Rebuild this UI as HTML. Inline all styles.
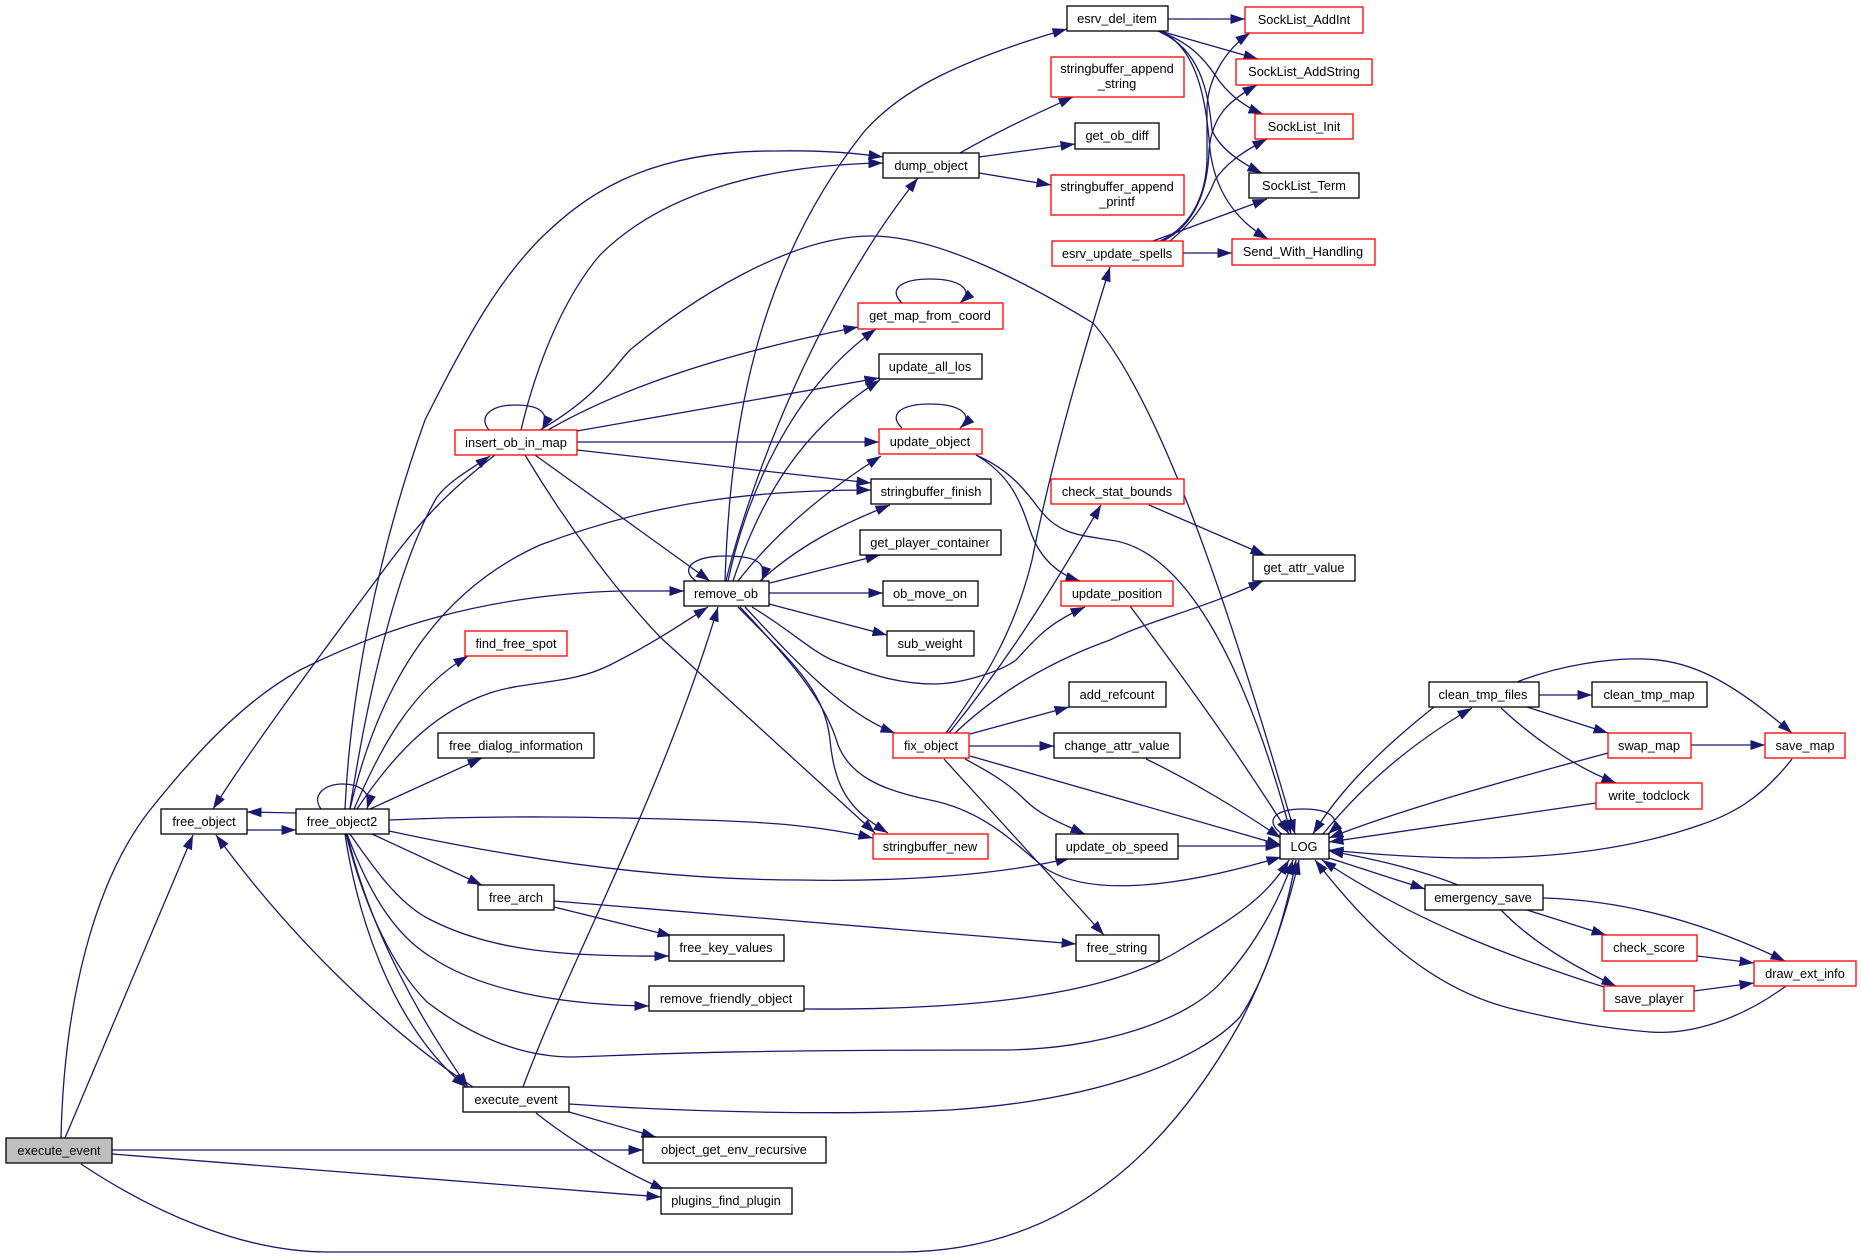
<!DOCTYPE html>
<html><head><meta charset="utf-8"><style>
html,body{margin:0;padding:0;background:#fff}
svg{display:block}
.e path{fill:none;stroke:#191970;stroke-width:1.3;marker-end:url(#a)}
.n rect{fill:#fff;stroke:#000;stroke-width:1.3}
.n rect.r{stroke:#f00}
.n rect.g{fill:#bfbfbf}
.n text{font-family:"Liberation Sans",sans-serif;font-size:12.8px;fill:#000;text-anchor:middle}
</style></head><body>
<svg xmlns="http://www.w3.org/2000/svg" width="1861" height="1257" viewBox="0 0 1861 1257">
<defs><marker id="a" markerUnits="userSpaceOnUse" markerWidth="16" markerHeight="11" refX="14.5" refY="5" orient="auto"><path d="M0,0L14.5,5L0,10z" fill="#191970"/></marker></defs>
<g class="e">
<path d="M61,1138C64,1000 95,880 150,810C190,760 240,703 300,670C380,630 480,595 620,591L684,591"/>
<path d="M65,1138L193,835"/>
<path d="M112,1150L643,1150"/>
<path d="M112,1154L661,1197"/>
<path d="M81,1164C150,1210 240,1252 328,1252L900,1252C1080,1252 1180,1130 1240,1023C1265,975 1285,920 1299,860"/>
<path d="M696,581C680,570 690,556 726,556C755,556 768,562 762,581"/>
<path d="M769,593L883,593"/>
<path d="M769,604L887,635"/>
<path d="M770,583L880,555"/>
<path d="M760,581C800,545 840,525 890,505"/>
<path d="M738,581C770,540 815,498 881,456"/>
<path d="M733,581C760,500 800,430 880,380"/>
<path d="M728,581C745,500 790,390 876,329"/>
<path d="M726,581C750,480 820,300 918,178"/>
<path d="M725,581C730,430 755,270 863,133C900,90 960,60 1067,29"/>
<path d="M740,607C790,660 825,700 838,745C850,775 880,790 930,800C990,812 1020,850 1048,870C1090,895 1170,890 1281,857"/>
<path d="M738,607C790,660 825,690 830,740C835,790 850,810 888,833"/>
<path d="M745,607C790,655 840,712 895,733"/>
<path d="M752,607C790,630 810,650 832,660C870,675 900,684 934,684C960,684 1000,672 1016,660C1035,640 1045,625 1085,607"/>
<path d="M489,430C478,417 490,405 515,405C535,405 552,410 542,430"/>
<path d="M902,303C888,290 900,279 930,279C960,279 975,290 960,303"/>
<path d="M902,428C888,415 900,404 930,404C960,404 975,415 960,428"/>
<path d="M321,809C311,795 325,784 342,784C360,784 372,792 367,809"/>
<path d="M1282,834C1265,822 1272,809 1303,809C1335,809 1342,822 1328,834"/>
<path d="M540,430C600,395 615,365 630,350C690,300 790,236 871,236C940,236 1030,285 1093,323C1150,390 1210,540 1295,834"/>
<path d="M976,455C1010,475 1020,500 1030,530C1040,560 1060,575 1080,581"/>
<path d="M976,455C1010,470 1025,490 1040,510C1060,535 1080,535 1110,540C1190,550 1250,680 1291,834"/>
<path d="M345,809C350,700 375,560 425,420C470,330 500,280 539,240C580,200 640,150 776,151C820,150 855,153 883,157"/>
<path d="M521,430C540,350 570,290 600,255C660,195 760,165 883,163"/>
<path d="M548,430C600,400 690,360 858,327"/>
<path d="M577,431L879,378"/>
<path d="M577,442L879,442"/>
<path d="M577,450L871,483"/>
<path d="M535,455L710,581"/>
<path d="M525,455C570,530 620,595 660,637L875,833"/>
<path d="M495,455C450,490 420,520 380,575C320,655 250,750 213,809"/>
<path d="M350,808C370,680 400,560 437,497C450,480 470,470 490,456"/>
<path d="M357,809C400,745 440,710 490,693C530,680 570,685 610,665C650,645 680,625 708,607"/>
<path d="M354,809C380,750 410,690 468,656"/>
<path d="M350,809C380,680 440,590 540,545C660,500 760,490 871,490"/>
<path d="M370,809L482,758"/>
<path d="M296,813L247,812"/>
<path d="M247,830L296,830"/>
<path d="M389,820C500,815 600,817 700,820C770,822 820,826 873,838"/>
<path d="M389,831C500,855 650,880 800,880C900,882 1000,875 1070,858"/>
<path d="M372,834L482,885"/>
<path d="M350,834C375,870 400,905 431,920C490,950 560,957 669,956"/>
<path d="M347,834C370,895 395,935 431,957C480,990 560,1005 649,1006"/>
<path d="M346,834C365,910 395,970 427,1002C470,1035 520,1057 573,1057C640,1055 700,1050 1000,1050C1100,1050 1190,1020 1224,979C1255,945 1280,900 1293,860"/>
<path d="M345,834C355,900 385,1020 466,1087"/>
<path d="M347,834C370,930 420,1020 468,1087"/>
<path d="M473,1087C400,1040 300,950 216,835"/>
<path d="M523,1087C570,960 660,800 718,607"/>
<path d="M569,1104C700,1113 850,1115 950,1110C1100,1100 1200,1060 1240,1017C1265,980 1285,920 1296,860"/>
<path d="M569,1112L656,1137"/>
<path d="M536,1113C570,1140 610,1165 665,1190"/>
<path d="M554,901L1076,944"/>
<path d="M554,907L672,936"/>
<path d="M804,1009C950,1010 1100,1000 1180,950C1230,920 1265,900 1289,860"/>
<path d="M960,153C1000,130 1040,112 1073,97"/>
<path d="M979,157L1075,144"/>
<path d="M979,173L1051,185"/>
<path d="M1168,19L1245,19"/>
<path d="M1160,31L1258,59"/>
<path d="M1158,31C1190,42 1205,60 1215,75C1225,90 1240,105 1263,114"/>
<path d="M1160,32C1200,50 1208,90 1212,130C1218,145 1235,160 1262,173"/>
<path d="M1162,32C1200,50 1207,110 1210,150C1215,190 1235,220 1268,239"/>
<path d="M1160,241C1195,225 1206,190 1207,160L1207,110C1207,80 1225,50 1250,33"/>
<path d="M1163,241C1195,225 1208,190 1209,150C1212,115 1230,100 1257,85"/>
<path d="M1170,241C1190,225 1205,205 1215,180C1225,165 1240,153 1267,139"/>
<path d="M1153,241L1267,199"/>
<path d="M1183,253L1232,253"/>
<path d="M1149,505L1265,555"/>
<path d="M946,733C985,680 1015,630 1032,560C1050,470 1075,380 1110,267"/>
<path d="M949,733C1000,670 1040,610 1101,505"/>
<path d="M955,733C990,700 1040,665 1110,640C1150,620 1200,610 1263,581"/>
<path d="M970,734L1069,707"/>
<path d="M969,746L1054,746"/>
<path d="M970,756L1281,845"/>
<path d="M965,759C995,775 1010,785 1025,800C1040,815 1060,823 1085,834"/>
<path d="M944,759L1104,935"/>
<path d="M1146,759C1190,780 1240,810 1281,838"/>
<path d="M1130,606C1170,660 1230,740 1289,834"/>
<path d="M1178,846L1280,846"/>
<path d="M1434,707C1380,750 1340,790 1313,834"/>
<path d="M1323,834C1355,795 1400,750 1472,708"/>
<path d="M1539,695L1592,695"/>
<path d="M1527,707L1608,733"/>
<path d="M1501,708C1530,735 1570,765 1616,783"/>
<path d="M1517,682C1560,665 1610,658 1644,659C1690,660 1730,680 1792,733"/>
<path d="M1691,745L1765,745"/>
<path d="M1608,753C1500,782 1400,810 1329,838"/>
<path d="M1596,803L1329,842"/>
<path d="M1792,759C1760,800 1730,815 1700,825C1600,860 1480,865 1329,850"/>
<path d="M1458,885C1420,870 1380,860 1329,851"/>
<path d="M1329,858L1425,889"/>
<path d="M1527,910L1606,935"/>
<path d="M1501,910C1530,940 1570,965 1616,986"/>
<path d="M1543,898C1620,900 1700,920 1785,961"/>
<path d="M1697,956L1754,963"/>
<path d="M1694,991L1754,983"/>
<path d="M1604,987C1520,960 1420,925 1322,860"/>
<path d="M1786,986C1740,1020 1690,1035 1650,1032C1600,1028 1560,1020 1517,1010C1430,990 1370,930 1315,860"/>
</g>
<g class="n">
<rect class="g" x="6" y="1138" width="106" height="25"/><text x="59" y="1155">execute_event</text>
<rect x="463" y="1087" width="106" height="25"/><text x="516" y="1104">execute_event</text>
<rect x="161" y="809" width="86" height="25"/><text x="204" y="826">free_object</text>
<rect x="296" y="809" width="93" height="25"/><text x="342" y="826">free_object2</text>
<rect class="r" x="455" y="430" width="122" height="25"/><text x="516" y="447">insert_ob_in_map</text>
<rect class="r" x="465" y="631" width="102" height="25"/><text x="516" y="648">find_free_spot</text>
<rect x="438" y="733" width="156" height="25"/><text x="516" y="750">free_dialog_information</text>
<rect x="478" y="885" width="76" height="25"/><text x="516" y="902">free_arch</text>
<rect x="684" y="581" width="85" height="25"/><text x="726" y="598">remove_ob</text>
<rect x="669" y="935" width="115" height="26"/><text x="726" y="952">free_key_values</text>
<rect x="649" y="986" width="155" height="25"/><text x="726" y="1003">remove_friendly_object</text>
<rect x="643" y="1137" width="183" height="26"/><text x="734" y="1154">object_get_env_recursive</text>
<rect x="661" y="1188" width="131" height="26"/><text x="726" y="1205">plugins_find_plugin</text>
<rect x="883" y="153" width="96" height="25"/><text x="931" y="170">dump_object</text>
<rect class="r" x="858" y="303" width="145" height="26"/><text x="930" y="320">get_map_from_coord</text>
<rect x="879" y="354" width="103" height="25"/><text x="930" y="371">update_all_los</text>
<rect class="r" x="879" y="429" width="103" height="25"/><text x="930" y="446">update_object</text>
<rect x="871" y="479" width="120" height="25"/><text x="931" y="496">stringbuffer_finish</text>
<rect x="860" y="530" width="141" height="25"/><text x="930" y="547">get_player_container</text>
<rect x="883" y="581" width="95" height="25"/><text x="930" y="598">ob_move_on</text>
<rect x="887" y="631" width="87" height="25"/><text x="930" y="648">sub_weight</text>
<rect class="r" x="893" y="733" width="76" height="25"/><text x="931" y="750">fix_object</text>
<rect class="r" x="873" y="834" width="115" height="25"/><text x="930" y="851">stringbuffer_new</text>
<rect x="1067" y="6" width="101" height="25"/><text x="1117" y="23">esrv_del_item</text>
<rect class="r" x="1051" y="57" width="133" height="40"/><text x="1117" y="73">stringbuffer_append</text><text x="1117" y="88">_string</text>
<rect x="1075" y="123" width="84" height="26"/><text x="1117" y="140">get_ob_diff</text>
<rect class="r" x="1051" y="175" width="133" height="40"/><text x="1117" y="191">stringbuffer_append</text><text x="1117" y="206">_printf</text>
<rect class="r" x="1052" y="241" width="131" height="25"/><text x="1117" y="258">esrv_update_spells</text>
<rect class="r" x="1051" y="479" width="133" height="25"/><text x="1117" y="496">check_stat_bounds</text>
<rect class="r" x="1061" y="581" width="112" height="25"/><text x="1117" y="598">update_position</text>
<rect x="1069" y="682" width="97" height="25"/><text x="1117" y="699">add_refcount</text>
<rect x="1054" y="733" width="126" height="25"/><text x="1117" y="750">change_attr_value</text>
<rect x="1056" y="834" width="122" height="25"/><text x="1117" y="851">update_ob_speed</text>
<rect x="1076" y="935" width="83" height="26"/><text x="1117" y="952">free_string</text>
<rect class="r" x="1245" y="7" width="118" height="26"/><text x="1304" y="24">SockList_AddInt</text>
<rect class="r" x="1236" y="59" width="136" height="26"/><text x="1304" y="76">SockList_AddString</text>
<rect class="r" x="1255" y="114" width="98" height="25"/><text x="1304" y="131">SockList_Init</text>
<rect x="1249" y="173" width="110" height="25"/><text x="1304" y="190">SockList_Term</text>
<rect class="r" x="1232" y="239" width="143" height="26"/><text x="1303" y="256">Send_With_Handling</text>
<rect x="1253" y="555" width="102" height="26"/><text x="1304" y="572">get_attr_value</text>
<rect x="1280" y="834" width="49" height="25"/><text x="1304" y="851">LOG</text>
<rect x="1429" y="682" width="110" height="25"/><text x="1483" y="699">clean_tmp_files</text>
<rect x="1592" y="682" width="115" height="25"/><text x="1649" y="699">clean_tmp_map</text>
<rect class="r" x="1608" y="733" width="83" height="25"/><text x="1649" y="750">swap_map</text>
<rect class="r" x="1765" y="733" width="80" height="25"/><text x="1805" y="750">save_map</text>
<rect class="r" x="1596" y="783" width="106" height="26"/><text x="1649" y="800">write_todclock</text>
<rect x="1425" y="885" width="118" height="25"/><text x="1483" y="902">emergency_save</text>
<rect class="r" x="1602" y="935" width="95" height="26"/><text x="1649" y="952">check_score</text>
<rect class="r" x="1604" y="986" width="90" height="25"/><text x="1649" y="1003">save_player</text>
<rect class="r" x="1754" y="961" width="102" height="25"/><text x="1805" y="978">draw_ext_info</text>
</g>
</svg>
</body></html>
